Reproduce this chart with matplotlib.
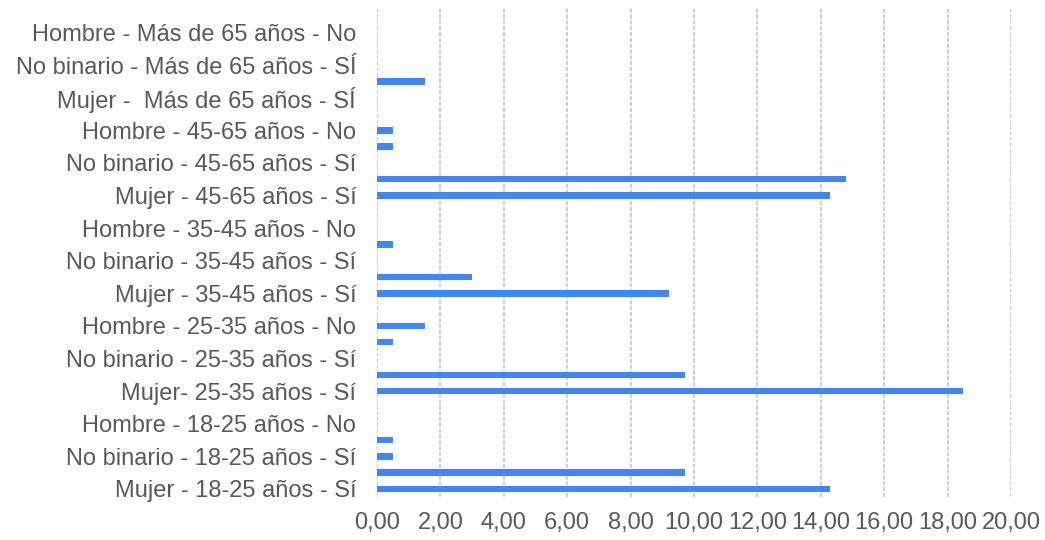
import matplotlib
matplotlib.use("Agg")
import matplotlib.pyplot as plt
from matplotlib.ticker import FuncFormatter

# Categories listed bottom to top; only every other one carries a visible label
categories = [
    "Mujer - 18-25 años - Sí", "Mujer - 18-25 años - No",
    "No binario - 18-25 años - Sí", "No binario - 18-25 años - No",
    "Hombre - 18-25 años - No", "Hombre - 18-25 años - Sí",
    "Mujer- 25-35 años - Sí", "Mujer - 25-35 años - No",
    "No binario - 25-35 años - Sí", "No binario - 25-35 años - No",
    "Hombre - 25-35 años - No", "Hombre - 25-35 años - Sí",
    "Mujer - 35-45 años - Sí", "Mujer - 35-45 años - No",
    "No binario - 35-45 años - Sí", "No binario - 35-45 años - No",
    "Hombre - 35-45 años - No", "Hombre - 35-45 años - Sí",
    "Mujer - 45-65 años - Sí", "Mujer - 45-65 años - No",
    "No binario - 45-65 años - Sí", "No binario - 45-65 años - No",
    "Hombre - 45-65 años - No", "Hombre - 45-65 años - Sí",
    "Mujer -  Más de 65 años - SÍ", "Mujer - Más de 65 años - No",
    "No binario - Más de 65 años - SÍ", "No binario - Más de 65 años - No",
    "Hombre - Más de 65 años - No", "Hombre - Más de 65 años - Sí",
]
values = [
    14.3, 9.7, 0.5, 0.5, 0.0, 0.0,
    18.5, 9.7, 0.0, 0.5, 1.5, 0.0,
    9.2, 3.0, 0.0, 0.5, 0.0, 0.0,
    14.3, 14.8, 0.0, 0.5, 0.5, 0.0,
    0.0, 1.5, 0.0, 0.0, 0.0, 0.0,
]
x_ticks = [0, 2, 4, 6, 8, 10, 12, 14, 16, 18, 20]

BAR_COLOR = "#4285F4"
TEXT_COLOR = "#595959"
GRID_COLOR = "#d0d0d0"

plt.rcParams["font.family"] = ["Liberation Sans", "DejaVu Sans"]

fig = plt.figure(figsize=(10.45, 5.40), dpi=100)
ax = fig.add_axes([0.3608, 0.0796, 0.9675 - 0.3608, 0.985 - 0.0796])

positions = list(range(len(categories)))
ax.barh(positions, values, height=0.4, color=BAR_COLOR, zorder=3)

ax.set_xlim(0, 20)
ax.set_ylim(-0.5, len(categories) - 0.5)

ax.set_xticks(x_ticks)
ax.xaxis.set_major_formatter(FuncFormatter(lambda v, _: f"{v:.2f}".replace(".", ",")))

# Show every second category label
ax.set_yticks(positions[::2])
ax.set_yticklabels(categories[::2])

ax.tick_params(axis="y", length=0, pad=15, labelsize=17, labelcolor=TEXT_COLOR)
ax.tick_params(axis="x", length=0, pad=11, labelsize=17, labelcolor=TEXT_COLOR)

for tick in x_ticks:
    ax.axvline(tick, color=GRID_COLOR, linewidth=1.5, linestyle=(0, (2, 0.8)), zorder=1)

for spine in ax.spines.values():
    spine.set_visible(False)

fig.savefig("out.png", dpi=100)
